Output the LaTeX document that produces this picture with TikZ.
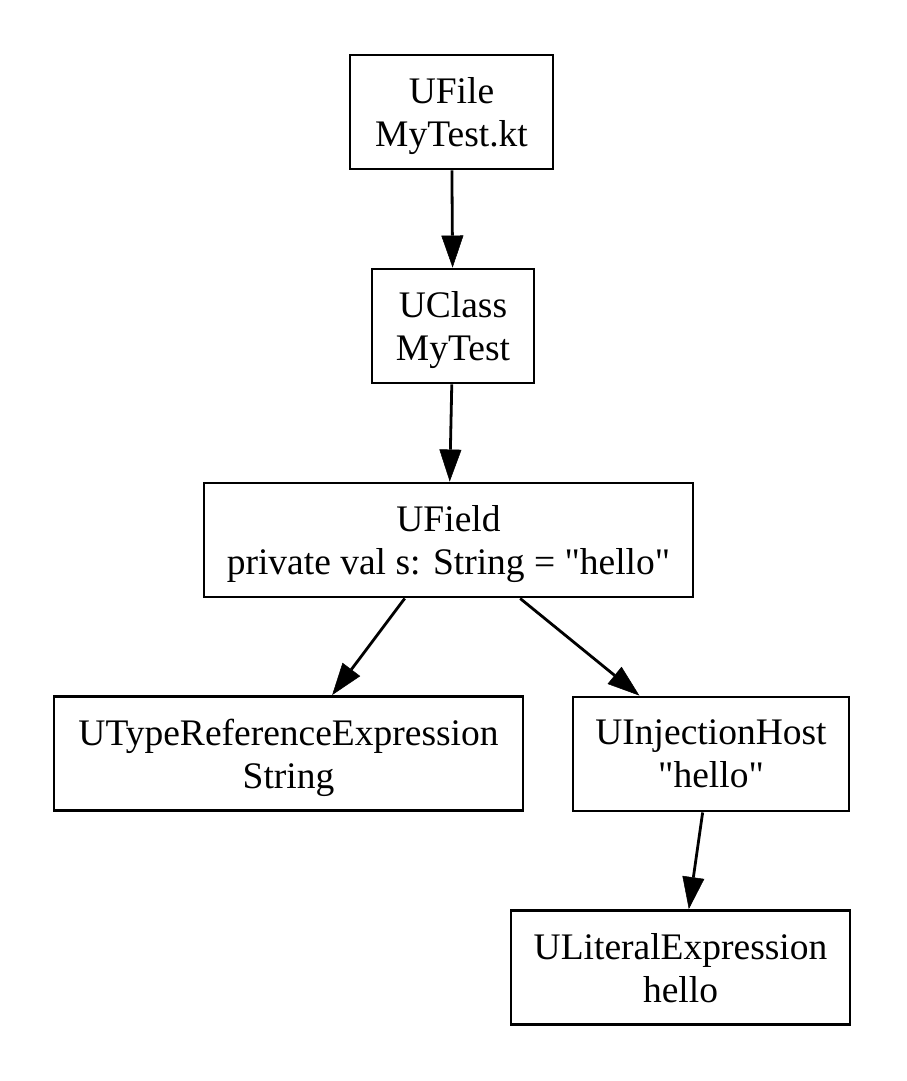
\documentclass[tikz,border=0pt]{standalone}
\usepackage{fontspec}
\setmainfont{Liberation Serif}[Ligatures=TeXOff]
\usetikzlibrary{arrows.meta}
\begin{document}
\begin{tikzpicture}[x=1pt,y=-1pt,
  box/.style={draw, line width=2.9pt, rectangle, inner sep=0pt, minimum height=114pt,
    align=center, text depth=-4pt, font=\fontsize{37.5}{43}\selectfont},
  edge/.style={line width=2.8pt, -{Triangle[length=32pt,width=22pt,line width=0.5pt]}}]
\useasboundingbox (0,0) rectangle (906,1081);
\node[box, minimum width=203pt] (file) at (451.5,112) {UFile\\MyTest.kt};
\node[box, minimum width=162pt] (class) at (453,326) {UClass\\MyTest};
\node[box, minimum width=489pt] (field) at (448.5,540) {UField\\private val s: String = "hello"};
\node[box, minimum width=469pt] (typeref) at (288.5,753.5) {UTypeReferenceExpression\\String};
\node[box, minimum width=276pt] (inj) at (711,754) {UInjectionHost\\"hello"};
\node[box, minimum width=339pt] (lit) at (680.5,967.5) {ULiteralExpression\\hello};
\draw[edge] (file) -- (class);
\draw[edge] (class) -- (field);
\draw[edge] (field) -- (typeref);
\draw[edge] (field) -- (inj);
\draw[edge] (inj) -- (lit);
\end{tikzpicture}
\end{document}
